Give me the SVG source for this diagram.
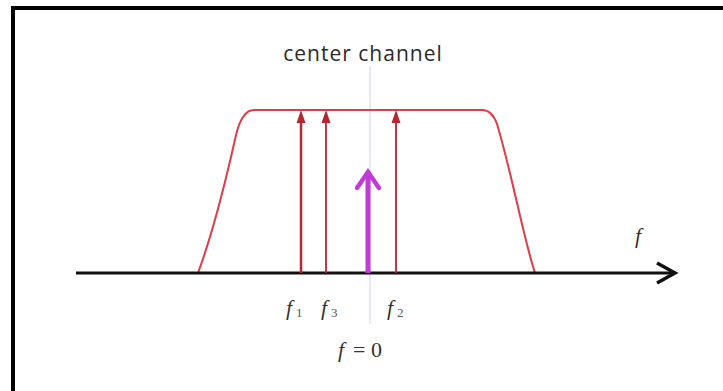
<svg xmlns="http://www.w3.org/2000/svg" width="723" height="391" viewBox="0 0 723 391">
<style>
.lbl{font-family:"Liberation Serif","DejaVu Serif",serif;font-style:italic;font-size:22px;fill:#333}
.sub{font-family:"Liberation Serif","DejaVu Serif",serif;font-size:13px;fill:#555}
.red{stroke:#b8262f;fill:none}
.rh{fill:#b8262f}
</style>
<rect width="723" height="391" fill="#fff"/>
<path d="M13,391 V8 H723" fill="none" stroke="#000" stroke-width="4"/>
<g id="center-line"><line x1="370" y1="66" x2="370" y2="324" stroke="#dfe4ec" stroke-width="1.5"/></g>
<g id="center-label"><text x="363" y="61" text-anchor="middle" font-family="'Open Sans','Liberation Sans',sans-serif" font-size="21" fill="#2a2a2a" letter-spacing="1">center channel</text></g>
<g id="passband"><path d="M198,273 C212,235 226,180 236,135 Q242,110 254,110 L482,110 Q492,110 497,124 C511,170 524,240 535,273" fill="none" stroke="#df3d47" stroke-width="2"/></g>
<g id="connectors">
<line x1="76" y1="273" x2="674" y2="273" stroke="#111" stroke-width="3"/>
<path d="M657,263 L675,273 L657,283" fill="none" stroke="#111" stroke-width="3.5" stroke-linejoin="miter"/>
<line class="red" x1="301" y1="273" x2="301" y2="118" stroke-width="2.5"/>
<path class="rh" d="M301,110 L305.5,123 L296.5,123 Z"/>
<line class="red" x1="326" y1="273" x2="326" y2="118" stroke-width="1.8"/>
<path class="rh" d="M326,110 L330.5,123 L321.5,123 Z"/>
<line class="red" x1="396" y1="273" x2="396" y2="118" stroke-width="1.8"/>
<path class="rh" d="M396,110 L400.5,123 L391.5,123 Z"/>
<line x1="368" y1="273" x2="368" y2="172" stroke="#c23ad8" stroke-width="5"/>
<path d="M357,188 L368,172 L379,188" fill="none" stroke="#c23ad8" stroke-width="4.5" stroke-linecap="round"/>
</g>
<g id="labels">
<text class="lbl" x="635" y="243">f</text>
<text class="lbl" x="286" y="315">f</text><text class="sub" x="296" y="317">1</text>
<text class="lbl" x="321" y="315">f</text><text class="sub" x="331" y="317">3</text>
<text class="lbl" x="387" y="315">f</text><text class="sub" x="397" y="317">2</text>
<text class="lbl" x="338" y="357">f</text>
<text x="353" y="357" font-family="'Liberation Serif','DejaVu Serif',serif" font-size="22" fill="#333">= 0</text>
</g>
</svg>
